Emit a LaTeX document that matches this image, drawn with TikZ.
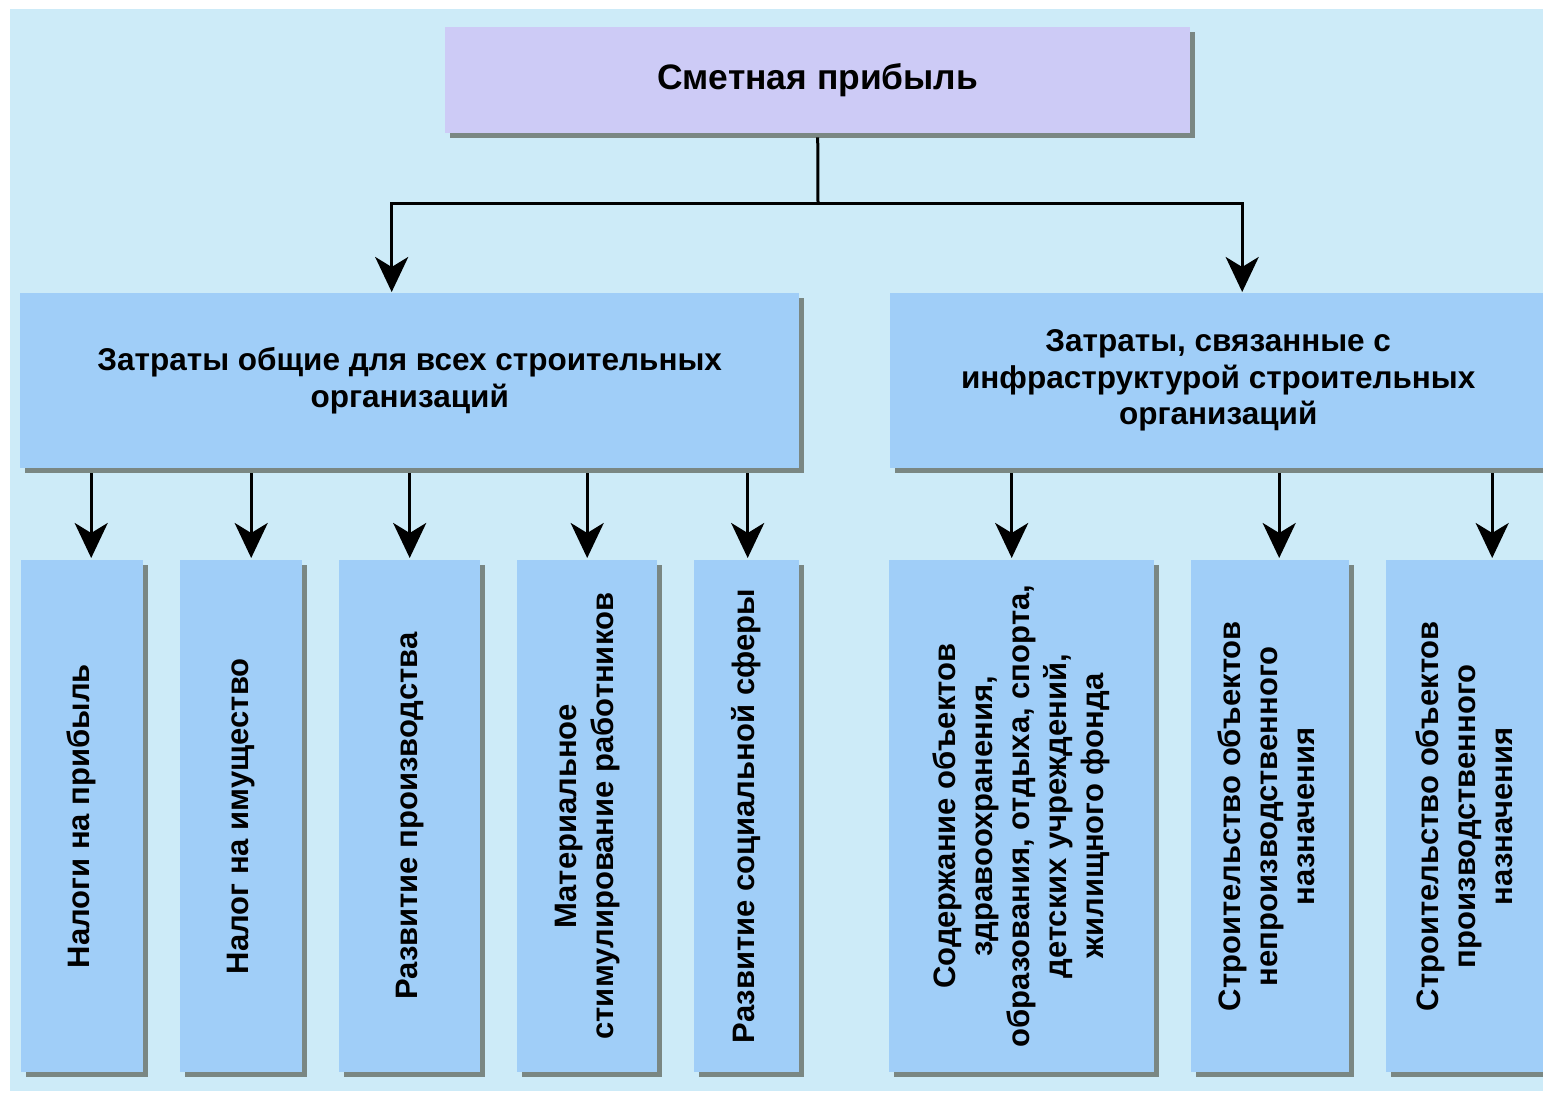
\documentclass[tikz,border=0pt]{standalone}
\usepackage{fontspec}
\setmainfont{Liberation Sans}
\usetikzlibrary{arrows.meta,shadows}
\definecolor{bgc}{HTML}{CDEBF8}
\definecolor{boxc}{HTML}{A0CEF8}
\definecolor{topc}{HTML}{CDCBF6}
\definecolor{shc}{HTML}{7A8783}
\newcommand{\vtext}[1]{\rotatebox{90}{\begin{tabular}{@{}c@{}}#1\end{tabular}}}
\begin{document}
\begin{tikzpicture}[x=1pt,y=-1pt,
  boxbase/.style={inner sep=0pt, anchor=north west, align=center,
    drop shadow={shadow xshift=5pt, shadow yshift=-5pt, fill=shc, opacity=1}},
  box/.style={boxbase, fill=boxc, minimum height=512pt, font=\bfseries\fontsize{31}{37}\selectfont},
  midbox/.style={boxbase, fill=boxc, minimum height=175pt, font=\bfseries\fontsize{31.5}{36.5}\selectfont},
  topbox/.style={boxbase, fill=topc, minimum width=745pt, minimum height=106pt, font=\bfseries\fontsize{35.4}{40}\selectfont},
  conn/.style={line width=3pt},
  arr/.style={line width=3pt, -{Stealth[length=35pt,width=33pt,inset=10pt]}}]
\useasboundingbox (0,0) rectangle (1543,1093);
\clip (0,0) rectangle (1543,1093);
\fill[white] (0,0) rectangle (1543,1093);
\fill[bgc] (10,9) rectangle (1543,1091);

\node[topbox] (top) at (445,27) {Сметная прибыль};

\node[midbox, minimum width=779pt] (m1) at (20,293) {Затраты общие для всех строительных\\организаций};
\node[midbox, minimum width=656pt] (m2) at (890,293) {Затраты, связанные с\\инфраструктурой строительных\\организаций};

\node[box, minimum width=122pt] (b1) at (21,560) {\vtext{Налоги на прибыль}};
\node[box, minimum width=122pt] (b2) at (180,560) {\vtext{Налог на имущество}};
\node[box, minimum width=141pt] (b3) at (339,560) {\vtext{Развитие производства}};
\node[box, minimum width=140pt] (b4) at (517,560) {\vtext{Материальное\\стимулирование работников}};
\node[box, minimum width=105pt] (b5) at (694,560) {\vtext{Развитие социальной сферы}};
\node[box, minimum width=265pt] (b6) at (889,560) {\vtext{Содержание объектов\\здравоохранения,\\образования, отдыха, спорта,\\детских учреждений,\\жилищного фонда}};
\node[box, minimum width=158pt] (b7) at (1191,560) {\vtext{Строительство объектов\\непроизводственного\\назначения}};
\node[box, minimum width=164pt] (b8) at (1386,560) {\vtext{Строительство объектов\\производственного\\назначения}};

\coordinate (j) at (818,203);
\draw[conn, shorten <=4pt] (top.south) -- (j);
\draw[arr, shorten >=1pt] (j) -| ([xshift=-18pt]m1.north);
\draw[arr, shorten >=1pt] (j) -| ([xshift=24pt]m2.north);

\foreach \b/\m/\dx in {b1/m1/9, b2/m1/10, b3/m1/0, b4/m1/0, b5/m1/1, b6/m2/-10, b7/m2/9, b8/m2/24}{
  \draw[arr, shorten <=5pt, shorten >=2pt] ([xshift=\dx pt]\b.north |- \m.south) -- ([xshift=\dx pt]\b.north);
}
\end{tikzpicture}
\end{document}
